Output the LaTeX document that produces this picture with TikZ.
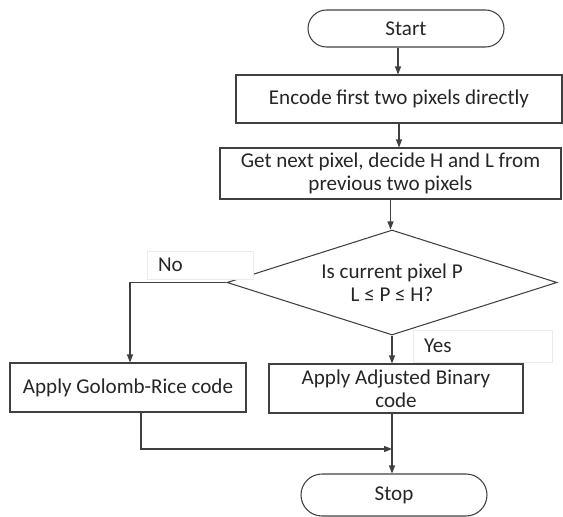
\documentclass[tikz,border=0pt]{standalone}
\usepackage{fontspec}
\setmainfont{Carlito}
\usetikzlibrary{shapes.geometric,shapes.misc,arrows.meta}
\begin{document}
\begin{tikzpicture}[x=0.3mm,y=-0.3mm,
	font=\fontsize{18}{19.6}\selectfont, text=black!85,
	every node/.style={align=center, inner sep=0pt},
	line/.style={draw=black!75, line width=0.9pt},
	arr/.style={line, -{Triangle[length=2.4mm,width=1.8mm]}},
	term/.style={line, rounded rectangle},
	proc/.style={line, rectangle},
	cond/.style={line, diamond, aspect=3.1},
	lbl/.style={draw=black!8, fill=white, align=left, inner xsep=3.3mm}]
	\useasboundingbox (0,0) rectangle (563,517);
	\node (start) [term, minimum width=196*0.3mm, minimum height=37*0.3mm] at (406,28.5) {Start};
	\node (enc) [proc, minimum width=326*0.3mm, minimum height=48*0.3mm] at (399,99) {Encode first two pixels directly};
	\node (get) [proc, minimum width=341*0.3mm, minimum height=51*0.3mm] at (390.5,173.5) {Get next pixel, decide H and L from\\ previous two pixels};
	\node (dec) [cond, minimum width=330*0.3mm, minimum height=105*0.3mm] at (392,282.5) {Is current pixel P\\ L ≤ P ≤ H?};
	\node (gr) [proc, minimum width=236*0.3mm, minimum height=49*0.3mm] at (128,387.5) {Apply Golomb-Rice code};
	\node (adj) [proc, minimum width=254*0.3mm, minimum height=49*0.3mm] at (396,388.5) {Apply Adjusted Binary\\ code};
	\node (stop) [term, minimum width=186*0.3mm, minimum height=42*0.3mm] at (394,495) {Stop};
	\node (no) [lbl, text width=84*0.3mm, minimum height=28*0.3mm] at (200,265) {No};
	\node (yes) [lbl, text width=117*0.3mm, minimum height=32*0.3mm] at (482.5,346) {Yes};
	\coordinate (merge) at (392,449);
	\draw [arr] ([xshift=-8*0.3mm]start.south) -- ([xshift=-8*0.3mm]start.south |- enc.north);
	\draw [arr] (enc.south) -- (enc.south |- get.north);
	\draw [arr] (get.south) -- (get.south |- dec.north);
	\draw [arr] (dec.south) -- (dec.south |- adj.north);
	\draw [arr] (dec.west) -| ([xshift=2*0.3mm]gr.north);
	\draw [arr] ([xshift=13*0.3mm]gr.south) |- (merge);
	\draw [arr] (merge |- adj.south) -- (merge |- stop.north);
\end{tikzpicture}
\end{document}
